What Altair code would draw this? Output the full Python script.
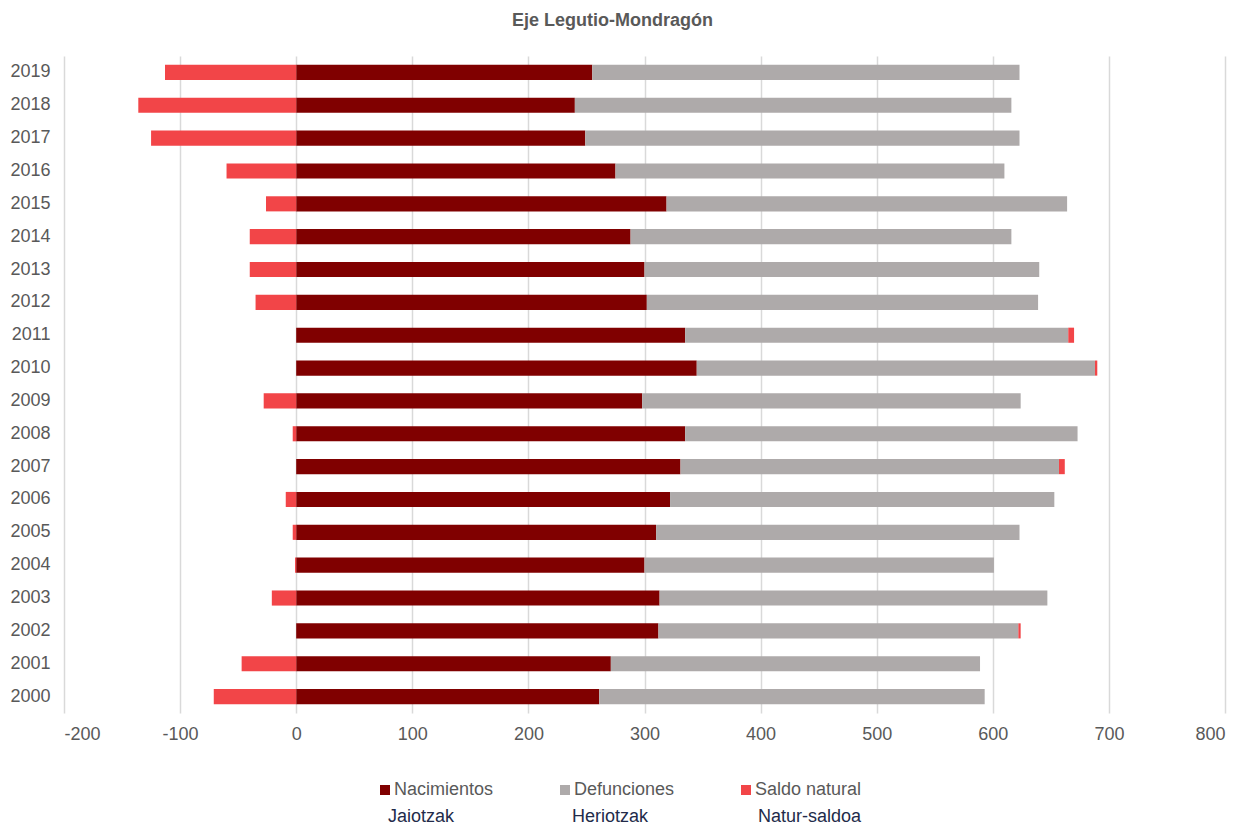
import altair as alt
import pandas as pd

years = list(range(2000, 2020))
nacimientos = [261, 271, 312, 313, 300, 310, 322, 331, 335, 298,
               345, 335, 302, 300, 288, 319, 275, 249, 240, 255]
defunciones = [332, 318, 310, 334, 301, 313, 331, 326, 338, 326,
               343, 330, 337, 340, 328, 345, 335, 374, 376, 368]
saldo = [-71, -47, 2, -21, -1, -3, -9, 5, -3, -28,
         2, 5, -35, -40, -40, -26, -60, -125, -136, -113]

series_names = ["Nacimientos", "Defunciones", "Saldo natural"]
series_colors = ["#800000", "#AEAAAA", "#F24548"]
basque_names = ["Jaiotzak", "Heriotzak", "Natur-saldoa"]
x_ticks = [-200, -100, 0, 100, 200, 300, 400, 500, 600, 700, 800]

rows = []
for y, n, d, s in zip(years, nacimientos, defunciones, saldo):
    rows.append({"year": str(y), "serie": series_names[0], "start": 0, "end": n, "value": n})
    rows.append({"year": str(y), "serie": series_names[1], "start": n, "end": n + d, "value": d})
    if s >= 0:
        rows.append({"year": str(y), "serie": series_names[2], "start": n + d, "end": n + d + s, "value": s})
    else:
        rows.append({"year": str(y), "serie": series_names[2], "start": s, "end": 0, "value": s})
df = pd.DataFrame(rows)

FONT = "Liberation Sans"
GRAY = "#595959"

bars = alt.Chart(df).mark_bar().encode(
    y=alt.Y("year:O", sort="descending", title=None,
            scale=alt.Scale(paddingInner=0.54, paddingOuter=0.27),
            axis=alt.Axis(ticks=False, domain=False, grid=False, labelPadding=14,
                          labelFontSize=18, labelColor=GRAY, labelFont=FONT)),
    x=alt.X("start:Q", title=None,
            scale=alt.Scale(domain=[-200, 800], nice=False),
            axis=alt.Axis(values=x_ticks, ticks=False, domain=False, grid=True,
                          gridColor="#D9D9D9", gridWidth=1.5, labelPadding=12,
                          labelExpr="'' + datum.value",
                          labelFontSize=18, labelColor=GRAY, labelFont=FONT)),
    x2="end:Q",
    color=alt.Color("serie:N",
                    scale=alt.Scale(domain=series_names, range=series_colors),
                    legend=alt.Legend(title=None, orient="none", direction="horizontal",
                                      legendX=312, legendY=725, padding=0,
                                      gridAlign="none",
                                      symbolType="square", symbolSize=100,
                                      symbolStrokeWidth=0, labelOffset=0,
                                      columnPadding=62, labelFontSize=18,
                                      labelColor=GRAY, labelFont=FONT,
                                      labelLimit=300)),
)

basque_x = [324, 508, 694]
layers = [bars]
for name, xv in zip(basque_names, basque_x):
    layers.append(
        alt.Chart(pd.DataFrame({"t": [name]})).mark_text(
            align="left", baseline="middle", fontSize=18, font=FONT, color="#222B4A"
        ).encode(x=alt.value(xv), y=alt.value(761), text="t:N")
    )

chart = alt.layer(*layers).properties(
    width=1161, height=657,
    autosize=alt.AutoSizeParams(type="none"),
    padding={"left": 56, "top": 48, "right": 15, "bottom": 112},
    title=alt.Title("Eje Legutio-Mondragón", fontSize=18, fontWeight="bold",
                    font=FONT, color=GRAY, offset=26, dx=-32, anchor="middle"),
).configure_view(stroke=None)

chart.save("out.html", embed_options={"renderer": "svg", "actions": False})
